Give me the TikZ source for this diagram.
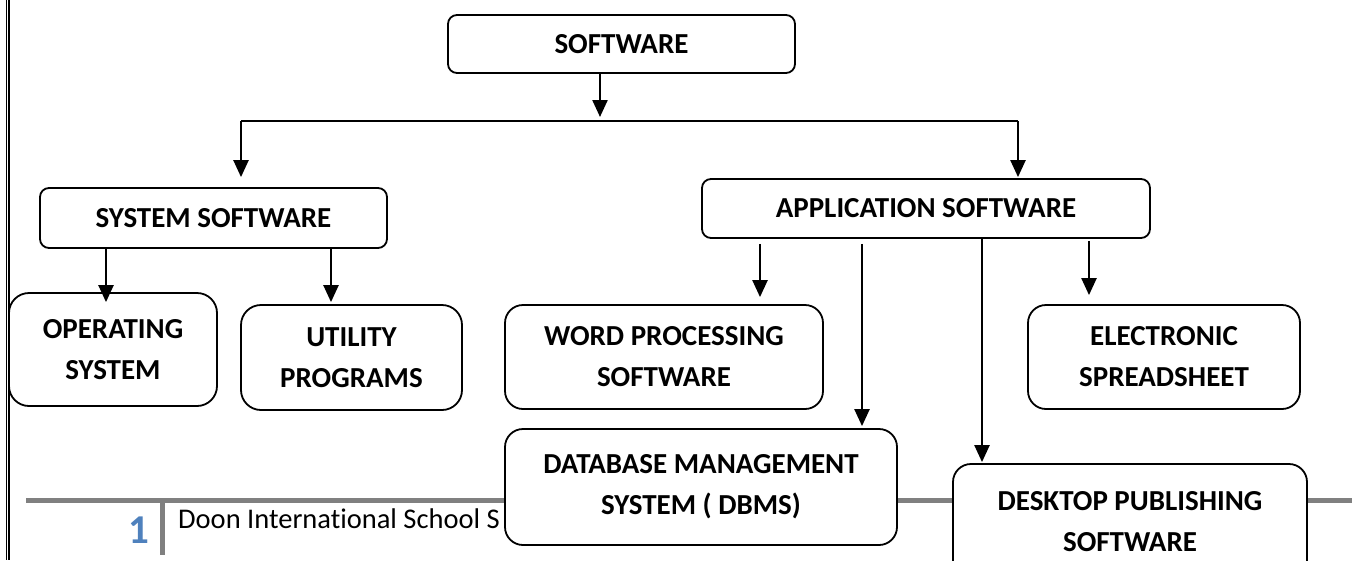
\documentclass[tikz,border=0pt]{standalone}
\usepackage{fontspec}
\setmainfont{Carlito}[Ligatures=NoCommon]
\usetikzlibrary{arrows.meta,calc}
\definecolor{footgray}{HTML}{808080}
\definecolor{pagenum}{HTML}{4F81BD}

\begin{document}
\begin{tikzpicture}[x=1pt,y=-1pt,
  box/.style={draw,line width=1.8pt,fill=white,rounded corners=#1,align=center,
    inner sep=0pt,font=\bfseries\fontsize{29}{41}\selectfont},
  box/.default=18pt,
  conn/.style={line width=2.3pt,-{Triangle[length=17pt,width=15pt]}},
  busline/.style={line width=2.3pt}]
\clip (0,0) rectangle (1352,560);
\useasboundingbox (0,0) rectangle (1352,560);

% page edge: double rule on the left
\draw[line width=1pt] (6.5,0) -- (6.5,560);
\draw[line width=2pt] (9,0) -- (9,560);

% page footer
\draw[footgray,line width=5pt] (26,500.5) -- (1352,500.5);
\draw[footgray,line width=5pt] (162.5,500) -- (162.5,555);
\node[anchor=base,inner sep=0pt,text=pagenum,font=\bfseries\fontsize{41}{41}\selectfont] (pg) at (139,543) {1};
\node[anchor=base west,inner sep=0pt,font=\fontsize{28.5}{34}\selectfont] (foot) at (178,528) {Doon International School S};

% boxes
\node[box=9pt,minimum width=347pt,minimum height=58pt] (soft) at (621.5,44) {SOFTWARE};
\node[box=9pt,minimum width=347pt,minimum height=60pt] (sys) at (213.5,218) {SYSTEM SOFTWARE};
\node[box=9pt,minimum width=448pt,minimum height=59pt] (app) at (926,208.5) {APPLICATION SOFTWARE};
\node[box=20pt,minimum width=208pt,minimum height=113pt] (os) at (113,349.5) {OPERATING\\SYSTEM};
\node[box=20pt,minimum width=221pt,minimum height=105pt] (ut) at (351.5,357.5) {UTILITY\\PROGRAMS};
\node[box,minimum width=318pt,minimum height=104pt] (wp) at (664,357) {WORD PROCESSING\\SOFTWARE};
\node[box,minimum width=272pt,minimum height=104pt] (es) at (1164,357) {ELECTRONIC\\SPREADSHEET};
\node[box,minimum width=392pt,minimum height=116pt] (dbms) at (701,487) {DATABASE MANAGEMENT\\SYSTEM ( DBMS)};
\node[box,minimum width=354pt,minimum height=116pt] (dtp) at (1130,522) {DESKTOP PUBLISHING\\SOFTWARE};

% junction points of the connectors
\coordinate (j) at (600,121);
\coordinate (busL) at (241,121);
\coordinate (busR) at (1018,121);
\coordinate (xo) at (106,0);
\coordinate (xu) at (331,0);
\coordinate (xw) at (760,0);
\coordinate (xd) at (862,0);
\coordinate (xp) at (982,0);
\coordinate (xe) at (1089,0);

% top level
\draw[conn,shorten >=4pt] (soft.south -| j) -- (j);
\draw[busline] (busL) -- (busR);
\draw[conn,shorten >=10pt] (busL) -- (sys.north -| busL);
\draw[conn,shorten >=1pt] (busR) -- (app.north -| busR);

% system software
\draw[conn] (sys.south -| xo) -- ($(os.north -| xo)+(0,10)$);
\draw[conn,shorten >=2pt] (sys.south -| xu) -- (ut.north -| xu);

% application software
\draw[conn,shorten <=5pt,shorten >=7pt] (app.south -| xw) -- (wp.north -| xw);
\draw[conn,shorten <=5pt,shorten >=2pt] (app.south -| xd) -- (dbms.north -| xd);
\draw[conn,shorten >=1pt] (app.south -| xp) -- (dtp.north -| xp);
\draw[conn,shorten <=2pt,shorten >=9pt] (app.south -| xe) -- (es.north -| xe);
\end{tikzpicture}
\end{document}
